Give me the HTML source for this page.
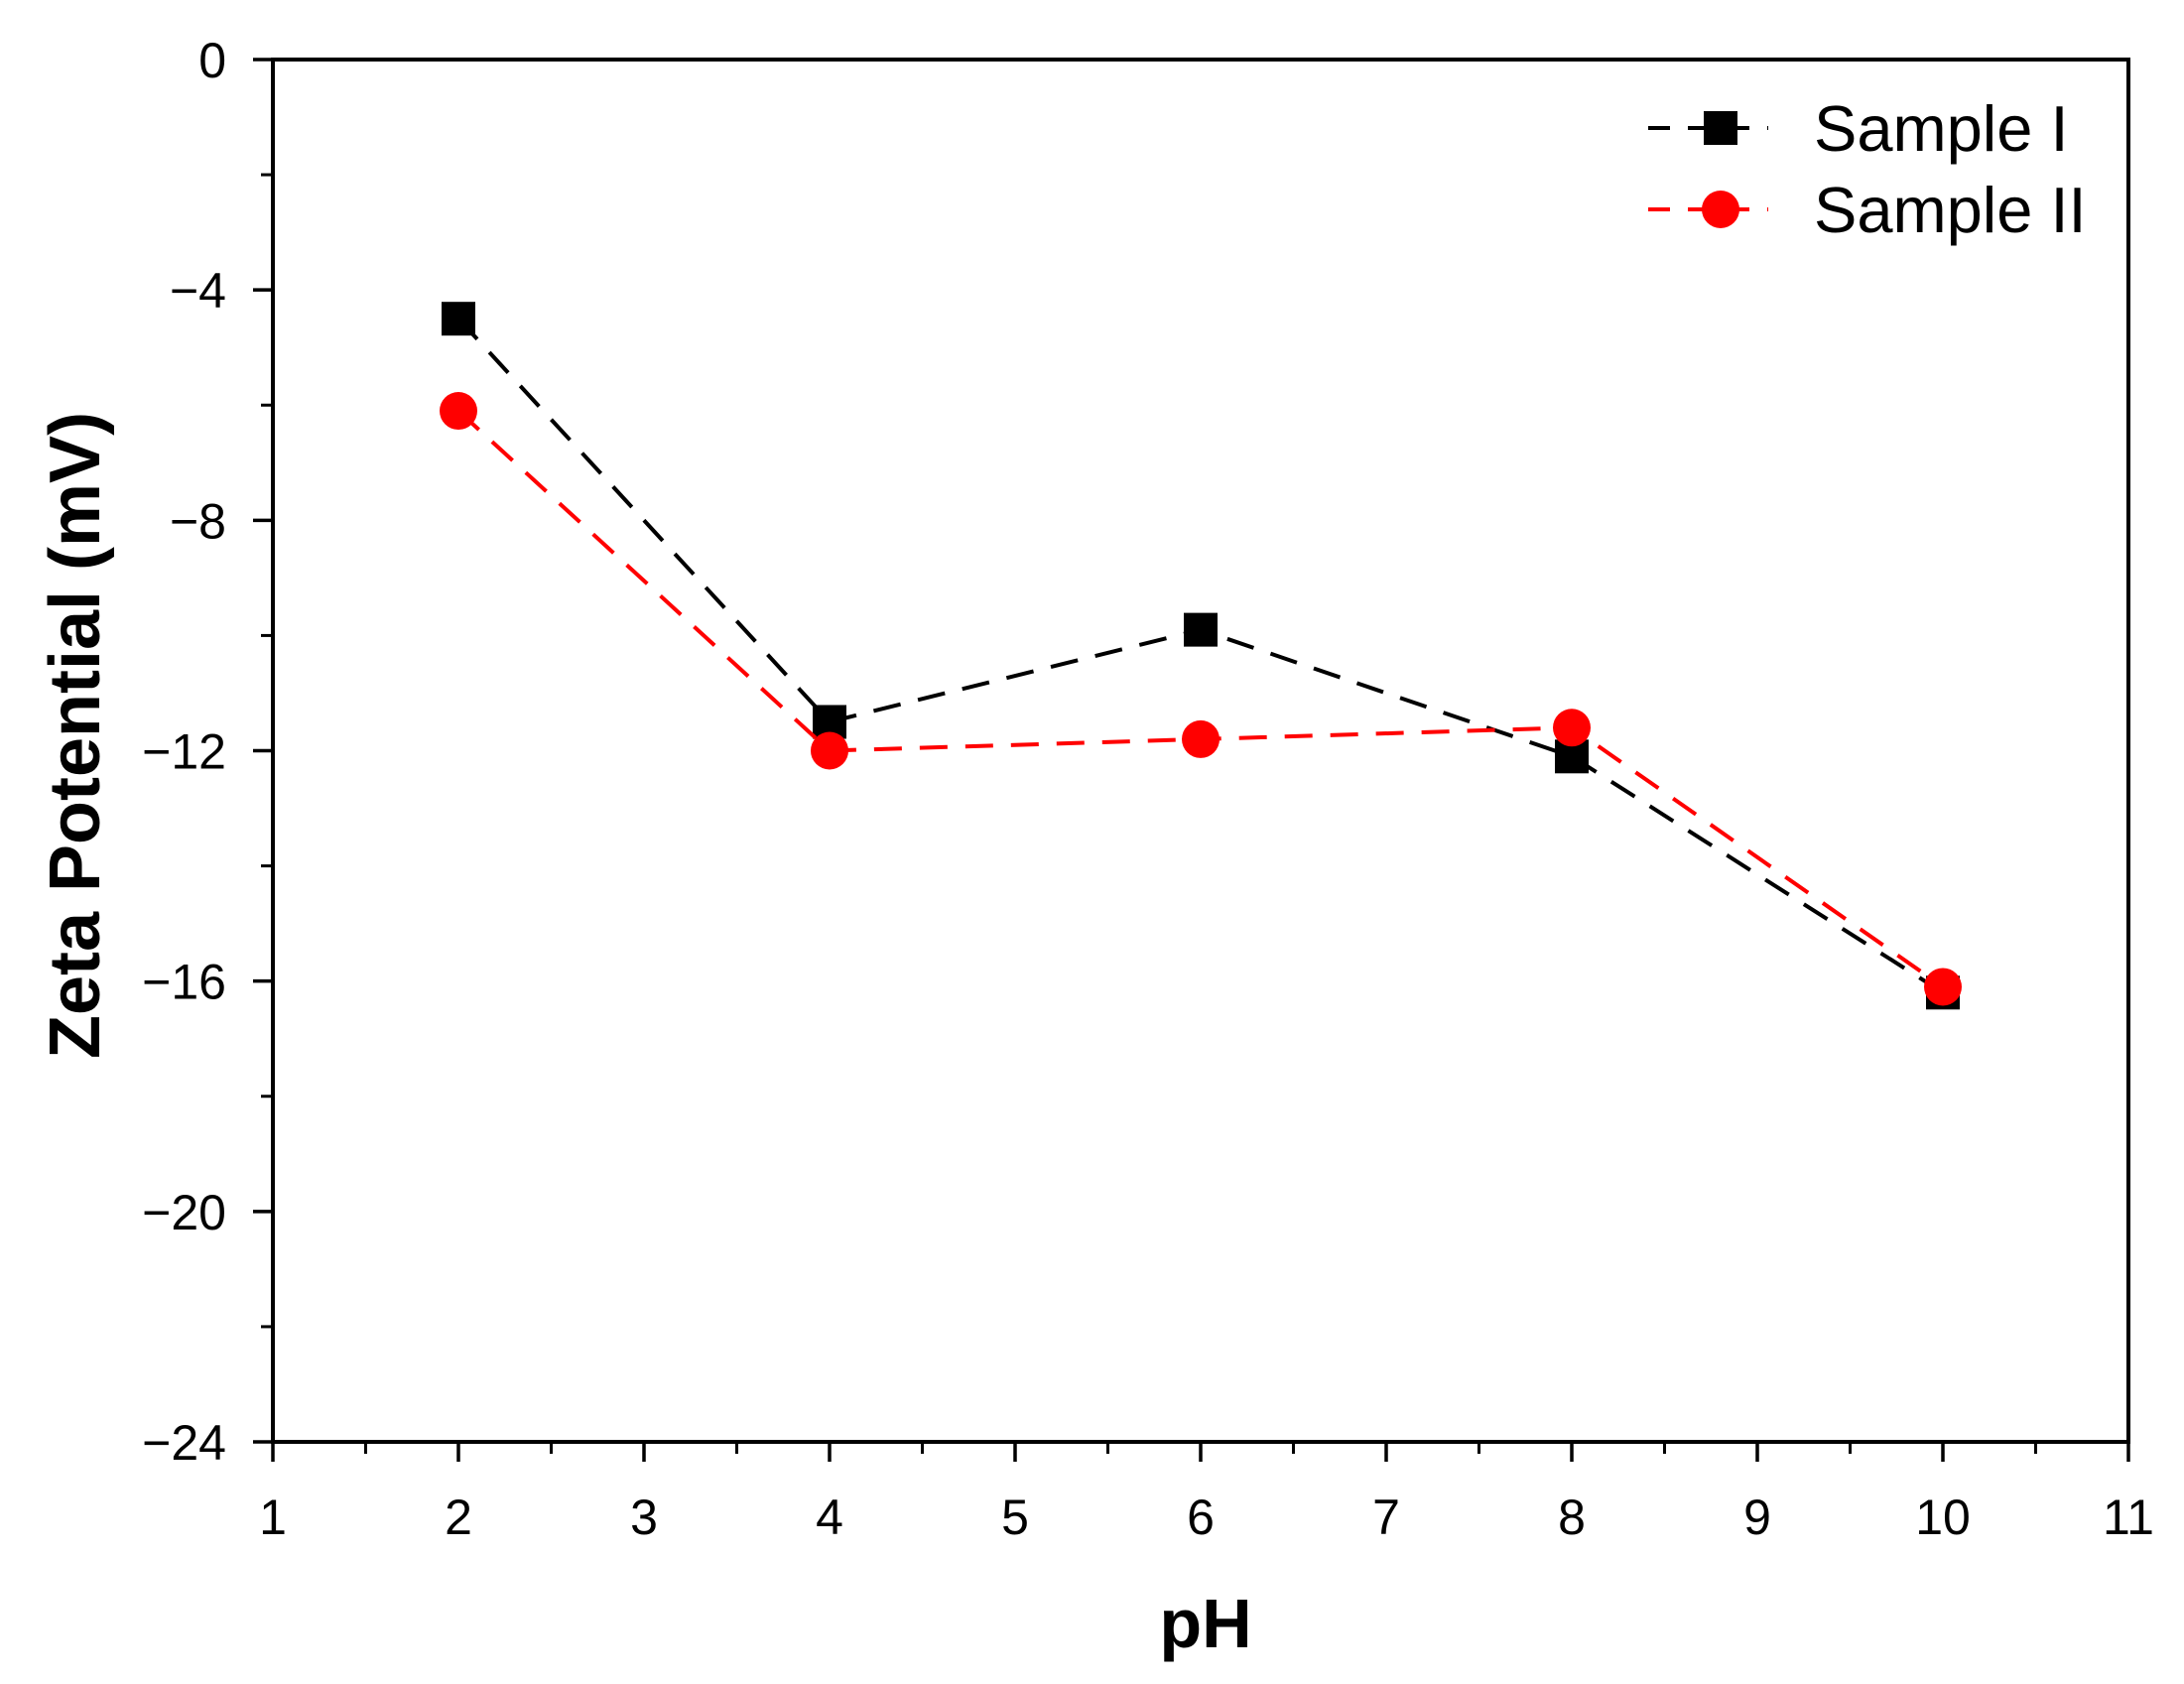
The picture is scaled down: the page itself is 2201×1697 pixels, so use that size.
<!DOCTYPE html>
<html><head><meta charset="utf-8"><style>
html,body{margin:0;padding:0;background:#fff;}
svg{display:block;font-family:"Liberation Sans",Arial,sans-serif;}
</style></head><body>
<svg id="chart" width="2201" height="1697" viewBox="0 0 2201 1697" xmlns="http://www.w3.org/2000/svg">
<rect width="2201" height="1697" fill="#fff"/>
<g id="series"></g>
<g id="axes"></g>
<g id="legend">
  <line x1="1661" y1="129" x2="1782" y2="129" stroke="#000" stroke-width="4" stroke-dasharray="22,18"/>
  <rect x="1717" y="112" width="34" height="34" fill="#000"/>
  <text x="1828" y="152" font-size="65" fill="#000">Sample I</text>
  <line x1="1661" y1="211" x2="1782" y2="211" stroke="#f00" stroke-width="4" stroke-dasharray="22,18"/>
  <circle cx="1734" cy="211" r="19" fill="#f00"/>
  <text x="1828" y="234" font-size="65" fill="#000">Sample II</text>
</g>
<text x="1215" y="1660" font-size="70" font-weight="bold" text-anchor="middle">pH</text>
<text transform="translate(100,741) rotate(-90)" font-size="72" font-weight="bold" text-anchor="middle">Zeta Potential (mV)</text>
</svg>
<script>
const phValues = [2, 4, 6, 8, 10];
const sample1 = [-4.5, -11.5, -9.9, -12.1, -16.2];
const sample2 = [-6.1, -12.0, -11.8, -11.6, -16.1];
const xTicks = ['1','2','3','4','5','6','7','8','9','10','11'];
const yTicks = ['0','\u22124','\u22128','\u221212','\u221216','\u221220','\u221224'];

const L=275,R=2145,T=60,B=1453;
const xMin=1,xMax=11,yMin=-24,yMax=0;
function sx(v){return L+(v-xMin)/(xMax-xMin)*(R-L);}
function sy(v){return T+(yMax-v)/(yMax-yMin)*(B-T);}
const NS='http://www.w3.org/2000/svg';
function mk(tag,attrs,parent){const e=document.createElementNS(NS,tag);for(const k in attrs)e.setAttribute(k,attrs[k]);parent.appendChild(e);return e;}

const axes=document.getElementById('axes');
const frame=mk('rect',{x:L,y:T,width:R-L,height:B-T,fill:'none',stroke:'#000','stroke-width':4},axes);


for(let i=0;i<xTicks.length;i++){
  const v=+xTicks[i];const x=sx(v);
  const t=mk('line',{x1:x,y1:B,x2:x,y2:B+20,stroke:'#000','stroke-width':3.5},axes);
  
  
  const lb=mk('text',{x:x,y:1546,'font-size':50,'text-anchor':'middle'},axes);
  lb.textContent=xTicks[i];
  
  
  if(i<xTicks.length-1){
    const xm=sx(v+0.5);
    const m=mk('line',{x1:xm,y1:B,x2:xm,y2:B+12,stroke:'#000','stroke-width':3},axes);
    
    
  }
}
for(let i=0;i<yTicks.length;i++){
  const v=-4*i;const y=sy(v);
  const t=mk('line',{x1:L-20,y1:y,x2:L,y2:y,stroke:'#000','stroke-width':3.5},axes);
  
  
  const lb=mk('text',{x:228,y:y+18,'font-size':50,'text-anchor':'end'},axes);
  lb.textContent=yTicks[i];
  
  
  if(i<yTicks.length-1){
    const ym=sy(v-2);
    const m=mk('line',{x1:L-12,y1:ym,x2:L,y2:ym,stroke:'#000','stroke-width':3},axes);
    
    
  }
}

const g=document.getElementById('series');
function draw(vals,color,shape,name){
  const pts=phValues.map((p,i)=>sx(p)+','+sy(vals[i])).join(' ');
  const pl=mk('polyline',{points:pts,fill:'none',stroke:color,'stroke-width':4,'stroke-dasharray':'28,18'},g);
  
  
  phValues.forEach((p,i)=>{
    let m;
    if(shape==='square') m=mk('rect',{x:sx(p)-17,y:sy(vals[i])-17,width:34,height:34,fill:color},g);
    else m=mk('circle',{cx:sx(p),cy:sy(vals[i]),r:19,fill:color},g);
    
    
  });
}
draw(sample1,'#000','square','sample-1');
draw(sample2,'#f00','circle','sample-2');
</script>
</body></html>
